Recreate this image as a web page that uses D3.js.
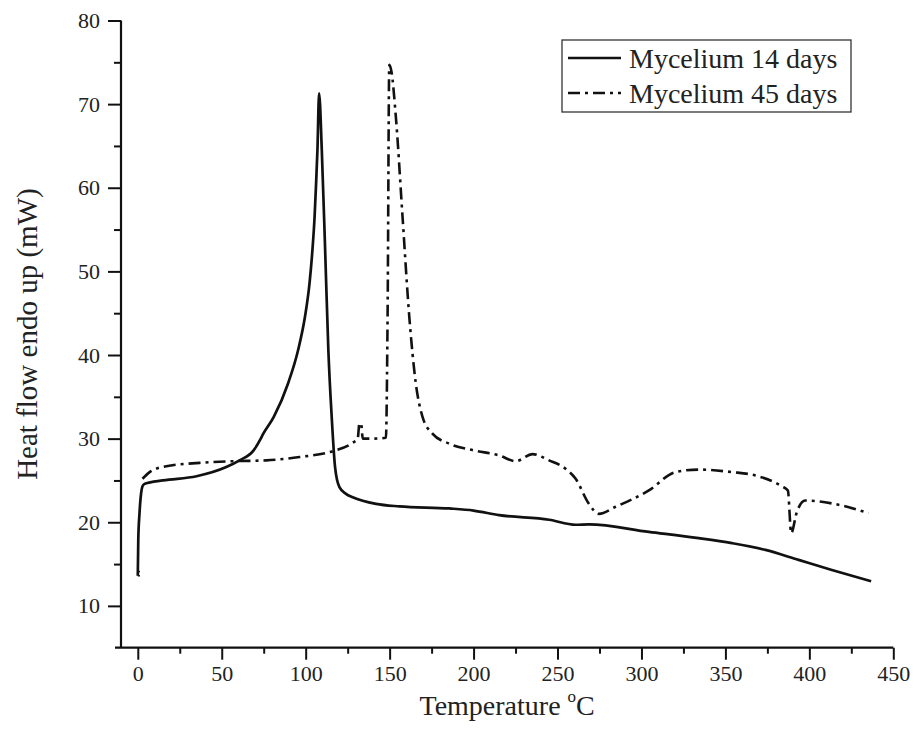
<!DOCTYPE html>
<html>
<head>
<meta charset="utf-8">
<script src="https://cdn.jsdelivr.net/npm/d3@7/dist/d3.min.js"></script>
<style>
  html, body { margin: 0; padding: 0; background: #fff; }
  svg { display: block; font-family: "Liberation Serif", "Times New Roman", serif; }
</style>
</head>
<body>
<svg id="chart" width="914" height="744"></svg>
<script>
// ---- Data ----
const seriesNames = ["Mycelium 14 days", "Mycelium 45 days"];

const temp14 = [0, 0.3, 1.0, 2.0, 2.8, 4.2, 15, 35, 52.7, 60.6, 69, 73, 74.5, 81, 89.5, 95.5, 99.6, 102.3, 104, 105.3, 106.2, 107, 108, 109.6, 111.6, 113.5, 115.5, 117.5, 120.1, 124, 128, 141.9, 155.8, 185.5, 200, 215.2, 245, 260.8, 268.7, 304.4, 334.1, 353.9, 373.8, 393.6, 413.4, 436.8];
const heat14 = [13.6, 18, 21, 23.5, 24.3, 24.6, 25.0, 25.5, 26.6, 27.4, 28.6, 29.9, 30.5, 32.6, 36.6, 40.6, 44.6, 48.6, 52.5, 56.5, 60.5, 64.5, 71.3, 64.5, 52.5, 40.6, 32.6, 26.6, 24.2, 23.4, 23.0, 22.2, 21.9, 21.65, 21.4, 20.85, 20.3, 19.7, 19.75, 18.85, 18.1, 17.5, 16.7, 15.5, 14.3, 12.95];

const temp45 = [2.8, 7.1, 17, 36.9, 56.7, 76.5, 96.3, 116.1, 128, 131, 132, 133, 134, 140, 147.8, 148.8, 149.8, 151, 153.7, 157.7, 161.7, 165.6, 169.6, 175.5, 185.5, 200, 215.2, 225.1, 235, 245, 254.8, 260.8, 268.7, 274.7, 284.6, 304.4, 320.3, 334.1, 353.9, 367.8, 383.6, 387.2, 389.2, 392.5, 397.5, 413.4, 435.2];
const heat45 = [25.2, 26.0, 26.7, 27.1, 27.3, 27.4, 27.8, 28.5, 29.5, 30.0, 31.8, 31.8, 30.0, 30.0, 30.1, 45, 74.7, 74.0, 68.5, 56.5, 44.6, 36.6, 32.6, 30.6, 29.4, 28.6, 28.0, 27.3, 28.15, 27.4, 26.4, 25.2, 22.2, 21.0, 21.85, 23.8, 26.0, 26.3, 26.0, 25.6, 24.3, 23.8, 18.7, 21.2, 22.6, 22.25, 21.1];

const xTicks = [0, 50, 100, 150, 200, 250, 300, 350, 400, 450];
const yTicks = [10, 20, 30, 40, 50, 60, 70, 80];
const xMinorTicks = [25, 75, 125, 175, 225, 275, 325, 375, 425];
const yMinorTicks = [15, 25, 35, 45, 55, 65, 75];

// ---- Layout ----
const svg = d3.select("#chart");
const mLeft = 121, mRight = 893.3, mTop = 20.5, mBottom = 647.7;
const x = d3.scaleLinear().domain([-10, 450]).range([mLeft, mRight]);
const y = d3.scaleLinear().domain([5, 80]).range([mBottom, mTop]);

const black = "#111";

// Axes
const xAxis = svg.append("g").attr("transform", `translate(0,${mBottom})`)
  .call(d3.axisBottom(x).tickValues(xTicks).tickSize(12).tickPadding(6).tickFormat(d3.format("d")));
const xMinor = svg.append("g").attr("transform", `translate(0,${mBottom})`)
  .call(d3.axisBottom(x).tickValues(xMinorTicks).tickSize(6).tickFormat(""));
const yAxis = svg.append("g").attr("transform", `translate(${mLeft},0)`)
  .call(d3.axisLeft(y).tickValues(yTicks).tickSize(13).tickPadding(8).tickFormat(d3.format("d")));
const yMinor = svg.append("g").attr("transform", `translate(${mLeft},0)`)
  .call(d3.axisLeft(y).tickValues(yMinorTicks).tickSize(7).tickFormat(""));

[xAxis, xMinor, yAxis, yMinor].forEach(g => {
  g.attr("font-family", null);
  g.select(".domain").remove();
  g.selectAll(".tick line").attr("stroke", black).attr("stroke-width", 2);
  g.selectAll(".tick text").attr("fill", "#222").style("font-size", "22px")
    .style("font-family", "'Liberation Serif', 'Times New Roman', serif");
});

// axis lines (x axis overhangs slightly to the left like the original)
svg.append("line").attr("x1", mLeft - 6).attr("x2", mRight).attr("y1", mBottom).attr("y2", mBottom)
  .attr("stroke", black).attr("stroke-width", 2.2);
svg.append("line").attr("x1", mLeft).attr("x2", mLeft).attr("y1", mTop).attr("y2", mBottom)
  .attr("stroke", black).attr("stroke-width", 2.2);

// Lines
const line = d3.line().x(d => x(d[0])).y(d => y(d[1])).curve(d3.curveMonotoneX);
const data14 = temp14.map((t, i) => [t, heat14[i]]);
const data45 = temp45.map((t, i) => [t, heat45[i]]);
const dashDot = "12,5,3,5";

svg.append("path").datum(data45).attr("d", line)
  .attr("fill", "none").attr("stroke", black).attr("stroke-width", 2.6)
  .attr("stroke-dasharray", dashDot).attr("stroke-linejoin", "round");
svg.append("path").datum(data14).attr("d", line)
  .attr("fill", "none").attr("stroke", black).attr("stroke-width", 2.7).attr("stroke-linejoin", "round");
// small start marker
[13.6, 14.1].forEach(v => {
  svg.append("line").attr("x1", x(0)).attr("x2", x(1.3)).attr("y1", y(v)).attr("y2", y(v))
    .attr("stroke", black).attr("stroke-width", 1.5);
});

// Axis titles
svg.append("text").attr("x", (mLeft + mRight) / 2).attr("y", 715)
  .attr("text-anchor", "middle").style("font-size", "28px").attr("fill", "#222")
  .call(t => {
    t.append("tspan").text("Temperature ");
    t.append("tspan").text("o").style("font-size", "17px").attr("dy", -13);
    t.append("tspan").text("C").attr("dy", 13);
  });
svg.append("text").attr("transform", `translate(37,${(mTop + mBottom) / 2}) rotate(-90)`)
  .attr("text-anchor", "middle").style("font-size", "29px").attr("fill", "#222")
  .text("Heat flow endo up (mW)");

// Legend
const lg = svg.append("g");
lg.append("rect").attr("x", 562).attr("y", 40).attr("width", 289).attr("height", 72)
  .attr("fill", "#fff").attr("stroke", "#333").attr("stroke-width", 1.3);
const legendRows = [{ y: 58, dash: null }, { y: 93, dash: dashDot }];
legendRows.forEach((r, i) => {
  lg.append("line").attr("x1", 568).attr("x2", 621).attr("y1", r.y).attr("y2", r.y)
    .attr("stroke", black).attr("stroke-width", 2.6).attr("stroke-dasharray", r.dash);
  lg.append("text").attr("x", 629).attr("y", r.y + 10).style("font-size", "28px")
    .attr("fill", "#222").text(seriesNames[i]);
});
</script>
</body>
</html>
